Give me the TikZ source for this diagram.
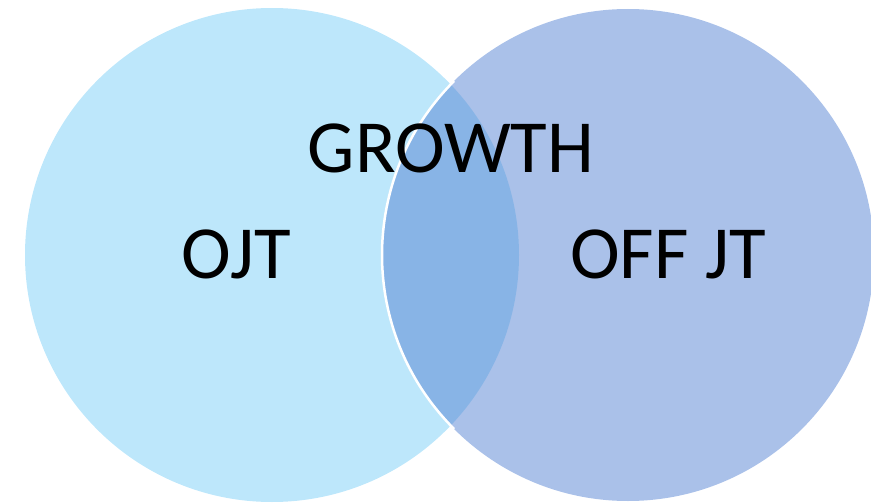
\documentclass[tikz,border=0pt]{standalone}
\usepackage{fontspec}
\setmainfont{Carlito}
\usepackage{tikz}

\definecolor{ojtblue}{RGB}{189,231,251}
\definecolor{offblue}{RGB}{85,131,211}

\begin{document}
\begin{tikzpicture}[x=1pt, y=-1pt, lbl/.style={font=\fontsize{75}{80}\selectfont, inner sep=0pt, text=black}]
                \useasboundingbox (0,0) rectangle (871,503);
                \fill[ojtblue] (272, 255) circle (247);
                \fill[offblue, fill opacity=0.5] (628, 255) circle (246);
                \draw[white, line width=2.5pt] (628, 255) ++(135:246) arc (135:225:246);
                \node[lbl] (growth) at (451, 148) {GROWTH};
                \node[lbl] (ojt) at (236, 254) {OJT};
                \node[lbl] (offjt) at (668, 254) {OFF JT};
              \end{tikzpicture}
\end{document}
